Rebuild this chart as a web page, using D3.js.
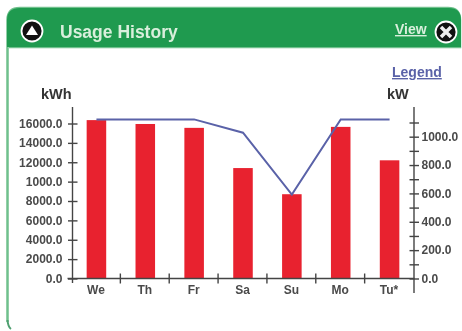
<!DOCTYPE html>
<html>
<head>
<meta charset="utf-8">
<script src="https://cdn.jsdelivr.net/npm/d3@7"></script>
<style>
    html, body { margin: 0; padding: 0; background: #fff; }
    svg { display: block; filter: blur(0.5px); }
    text { font-family: "Liberation Sans", Arial, sans-serif; font-weight: bold; }
    .axis text { font-size: 12px; fill: #4a4a4a; }
    .axis path, .axis line { stroke: #444; stroke-width: 1.4; }
    .unit { font-size: 14.5px; fill: #333; }
</style>
</head>
<body>
<div id="chart"></div>
<script>
const days = ['We', 'Th', 'Fr', 'Sa', 'Su', 'Mo', 'Tu*'];
const kwhValues = [16350, 15950, 15550, 11400, 8700, 15650, 12200];
const kwValues = [1122, 1122, 1122, 1028, 592, 1122, 1122];
const kwhTicks = [0, 2000, 4000, 6000, 8000, 10000, 12000, 14000, 16000];
// the reference really prints 1000.0 on the 10000 tick
const kwhTickLabels = ['0.0', '2000.0', '4000.0', '6000.0', '8000.0', '1000.0', '12000.0', '14000.0', '16000.0'];
const kwTicks = [0, 100, 200, 300, 400, 500, 600, 700, 800, 900, 1000, 1100];
const kwTickLabels = ['0.0', '', '200.0', '', '400.0', '', '600.0', '', '800.0', '', '1000.0', ''];

const width = 462, height = 331;
const green = '#1f9a4f';

const svg = d3.select('#chart').append('svg')
    .attr('width', width)
    .attr('height', height);

// panel
svg.append('path')
    .attr('d', 'M7.5,322 V20 Q7.5,8 20,8 H448 Q460,8 460,20 V47 H9')
    .attr('fill', 'none')
    .attr('stroke', '#6fc08c')
    .attr('stroke-width', 2.5);
svg.append('path')
    .attr('d', 'M7,47 V20 Q7,8 20,8 H449 Q461,8 461,20 V47 Z')
    .attr('fill', green);
svg.append('path')
    .attr('d', 'M7.5,320 Q8,327 11,329')
    .attr('fill', 'none')
    .attr('stroke', '#4f9f70')
    .attr('stroke-width', 2);

// header icons and text
svg.append('circle').attr('cx', 32).attr('cy', 31).attr('r', 10.5)
    .attr('fill', '#111').attr('stroke', '#fff').attr('stroke-width', 1.8);
svg.append('path').attr('d', 'M32,25.5 L38,35 H26 Z').attr('fill', '#fff');
svg.append('text').attr('x', 60).attr('y', 38).attr('font-size', 17.5).attr('fill', '#d9efdc')
    .text('Usage History');
svg.append('text').attr('x', 395).attr('y', 34).attr('font-size', 14).attr('fill', '#d9efdc')
    .attr('text-decoration', 'underline').text('View');
svg.append('circle').attr('cx', 446).attr('cy', 32).attr('r', 10.5)
    .attr('fill', '#111').attr('stroke', '#fff').attr('stroke-width', 1.8);
svg.append('path').attr('d', 'M441,27 L451,37 M451,27 L441,37')
    .attr('stroke', '#eee').attr('stroke-width', 3.5);
svg.append('text').attr('x', 392).attr('y', 77).attr('font-size', 14).attr('fill', '#5a62a8')
    .attr('text-decoration', 'underline').text('Legend');
svg.append('text').attr('class', 'unit').attr('x', 41).attr('y', 99).text('kWh');
svg.append('text').attr('class', 'unit').attr('x', 387).attr('y', 99).text('kW');

// scales
const xLeft = 72.5, xRight = 414.5, yBase = 278.5;
const xScale = d3.scaleBand().domain(days).range([xLeft, xRight - 0]).paddingInner(0.6).paddingOuter(0.3);
const yKwh = d3.scaleLinear().domain([0, 16000]).range([yBase, 123.5]);
const yKw = d3.scaleLinear().domain([0, 1100]).range([yBase, 122.5]);

// bars
svg.append('g').selectAll('rect')
    .data(days)
    .join('rect')
    .attr('x', d => xScale(d) - 0.5)
    .attr('width', xScale.bandwidth())
    .attr('y', (d, i) => yKwh(kwhValues[i]))
    .attr('height', (d, i) => yBase - yKwh(kwhValues[i]))
    .attr('fill', '#e8222f');

// kW line
const line = d3.line()
    .x((d, i) => xScale(days[i]) + xScale.bandwidth() / 2 - 0.5)
    .y(d => yKw(d));
svg.append('path')
    .datum(kwValues)
    .attr('d', line)
    .attr('fill', 'none')
    .attr('stroke', '#5a62a8')
    .attr('stroke-width', 2);

// axes
const leftAxis = d3.axisLeft(yKwh)
    .tickValues(kwhTicks)
    .tickSize(4)
    .tickSizeOuter(0)
    .tickPadding(4)
    .tickFormat((d, i) => kwhTickLabels[i]);
const leftG = svg.append('g').attr('class', 'axis')
    .attr('transform', `translate(${xLeft},0)`)
    .call(leftAxis);
leftG.select('.domain').attr('d', 'M0,107 V283').attr('stroke', '#666').attr('stroke-width', 1.8);
leftG.selectAll('.tick line').attr('x1', -4.5).attr('x2', 5);
leftG.selectAll('.tick text').attr('x', -10);

const rightAxis = d3.axisRight(yKw)
    .tickValues(kwTicks)
    .tickSize(5)
    .tickSizeOuter(0)
    .tickPadding(3)
    .tickFormat((d, i) => kwTickLabels[i]);
const rightG = svg.append('g').attr('class', 'axis')
    .attr('transform', `translate(${xRight - 0.5},0)`)
    .call(rightAxis);
rightG.select('.domain').attr('d', 'M0,107 V293');
rightG.selectAll('.tick line').attr('x1', -4.5).attr('x2', 5);
rightG.selectAll('.tick text').attr('x', 7.5);

const bottomAxis = d3.axisBottom(xScale)
    .tickSize(0)
    .tickPadding(7);
const bottomG = svg.append('g').attr('class', 'axis')
    .attr('transform', `translate(-1,${yBase})`)
    .call(bottomAxis);
bottomG.select('.domain').attr('d', `M${xLeft - 4},0 H${xRight + 1}`);

// separators between the days
bottomG.selectAll('.sep')
    .data(days.slice(1))
    .join('line')
    .attr('class', 'sep')
    .attr('x1', d => xScale(d) - xScale.step() * xScale.paddingInner() / 2)
    .attr('x2', d => xScale(d) - xScale.step() * xScale.paddingInner() / 2)
    .attr('y1', -5)
    .attr('y2', 5);
</script>
</body>
</html>
